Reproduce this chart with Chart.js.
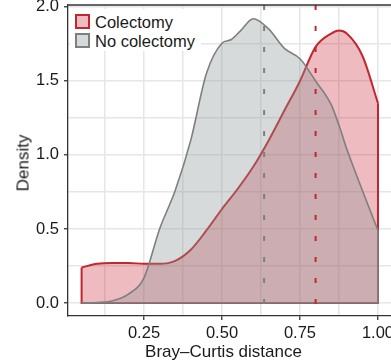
<!DOCTYPE html>
<html>
<head>
<meta charset="utf-8">
<script src="https://cdn.jsdelivr.net/npm/chart.js@4.4.0/dist/chart.umd.min.js"></script>
<style>
  html, body { margin: 0; padding: 0; background: #fff; overflow: hidden; }
  #wrap { position: relative; width: 391px; height: 360px; font-family: "Liberation Sans", Arial, sans-serif; color: #1a1a1a; }
  #chart { position: absolute; left: 0; top: 0; }
  .legend { position: absolute; left: 70px; top: 9px; width: 131px; height: 42px; background: #fff; }
  .key { position: absolute; left: 5px; width: 15px; height: 15px; box-sizing: border-box; border: 2px solid; }
  .lab { position: absolute; left: 25px; font-size: 16.5px; line-height: 16.5px; white-space: nowrap; }
  .ytitle { position: absolute; left: 23.3px; top: 163px; font-size: 17px; line-height: 17px; transform: translate(-50%, -50%) rotate(-90deg); white-space: nowrap; }
  .xtitle { position: absolute; left: 223.5px; top: 351px; font-size: 17px; line-height: 17px; transform: translate(-50%, -50%); white-space: nowrap; }
</style>
</head>
<body>
<div id="wrap">
  <canvas id="chart" width="391" height="360"></canvas>
  <div class="legend">
    <div class="key" style="top:5px;border-color:#c1272d;background:rgba(200,30,45,0.3)"></div>
    <div class="lab" style="top:5px">Colectomy</div>
    <div class="key" style="top:24px;border-color:#7f7f7f;background:rgba(140,150,150,0.35)"></div>
    <div class="lab" style="top:24px">No colectomy</div>
  </div>
  <div class="ytitle">Density</div>
  <div class="xtitle">Bray–Curtis distance</div>
</div>
<script>
// density curves
const colectomyX = [0.05, 0.1, 0.15, 0.2, 0.25, 0.3, 0.35, 0.4, 0.45, 0.5, 0.55, 0.6, 0.65, 0.7, 0.75, 0.8, 0.85, 0.875, 0.9, 0.95, 1.0];
const colectomyY = [0.24, 0.265, 0.27, 0.27, 0.265, 0.265, 0.285, 0.36, 0.49, 0.635, 0.77, 0.92, 1.1, 1.3, 1.5, 1.73, 1.82, 1.84, 1.82, 1.67, 1.35];
const noColectomyX = [0.05, 0.1, 0.15, 0.2, 0.25, 0.3, 0.35, 0.4, 0.45, 0.5, 0.53, 0.56, 0.6, 0.65, 0.7, 0.75, 0.8, 0.85, 0.875, 0.9, 0.95, 1.0];
const noColectomyY = [0.0, 0.003, 0.015, 0.06, 0.17, 0.5, 0.76, 1.1, 1.55, 1.755, 1.78, 1.84, 1.92, 1.85, 1.72, 1.65, 1.5, 1.34, 1.2, 1.04, 0.76, 0.49];

// dashed reference lines (group means)
const colectomyMean = 0.80;
const noColectomyMean = 0.635;

const xTicks = [0.125, 0.25, 0.375, 0.5, 0.625, 0.75, 0.875, 1.0];
const yTicks = [0, 0.25, 0.5, 0.75, 1.0, 1.25, 1.5, 1.75, 2.0];

const xMin = 0.0064, xMax = 1.0417;
const yMin = -0.088, yMax = 2.013;

const red = '#c1272d';
const grey = '#7f7f7f';
const font = { family: '"Liberation Sans", Arial, sans-serif', size: 16.5 };

const toPoints = (xs, ys) => xs.map((x, i) => ({ x: x, y: ys[i] }));
const edges = (xs, ys) => {
  const n = xs.length - 1;
  return [{ x: xs[0], y: ys[0] }, { x: xs[0], y: 0 }, { x: xs[n], y: 0 }, { x: xs[n], y: ys[n] }];
};
const vline = (x) => [{ x: x, y: yMax }, { x: x, y: yMin }];

const isMajorX = v => Math.abs(v * 4 - Math.round(v * 4)) < 1e-9;
const isMajorY = v => Math.abs(v * 2 - Math.round(v * 2)) < 1e-9;

const panelTop = {
  id: 'panelTop',
  afterDraw(chart) {
    const { ctx, chartArea: a } = chart;
    ctx.save();
    ctx.strokeStyle = '#333';
    ctx.lineWidth = 1.3;
    ctx.beginPath();
    ctx.moveTo(a.left, a.top);
    ctx.lineTo(a.right, a.top);
    ctx.stroke();
    ctx.restore();
  }
};

new Chart(document.getElementById('chart'), {
  type: 'line',
  data: {
    datasets: [
      { data: vline(noColectomyMean), borderColor: grey, borderWidth: 2, borderDash: [5, 16], fill: false, order: 0 },
      { data: vline(colectomyMean), borderColor: red, borderWidth: 2, borderDash: [5, 16], fill: false, order: 0 },
      { label: 'No colectomy', data: toPoints(noColectomyX, noColectomyY), borderColor: grey, borderWidth: 1.6,
        backgroundColor: 'rgba(140,150,150,0.35)', fill: 'origin', cubicInterpolationMode: 'monotone', order: 1 },
      { data: edges(noColectomyX, noColectomyY), borderColor: grey, borderWidth: 1.6, fill: false, tension: 0, order: 1 },
      { label: 'Colectomy', data: toPoints(colectomyX, colectomyY), borderColor: red, borderWidth: 2,
        backgroundColor: 'rgba(200,30,45,0.3)', fill: 'origin', cubicInterpolationMode: 'monotone', order: 2 },
      { data: edges(colectomyX, colectomyY), borderColor: red, borderWidth: 2, fill: false, tension: 0, order: 2 }
    ]
  },
  options: {
    responsive: false,
    animation: false,
    layout: { padding: { top: 5, left: 0, right: 0, bottom: 0 } },
    plugins: { legend: { display: false }, tooltip: { enabled: false } },
    elements: { point: { radius: 0 } },
    scales: {
      x: {
        type: 'linear', min: xMin, max: xMax,
        afterBuildTicks: s => { s.ticks = xTicks.map(v => ({ value: v })); },
        afterFit: s => { s.height = 44; s.paddingLeft = 0; s.paddingRight = 0; },
        ticks: { autoSkip: false, maxRotation: 0, padding: 4, color: '#1a1a1a', font: font,
          callback: v => isMajorX(v) ? v.toFixed(2) : '' },
        grid: { color: '#e6e6e6', lineWidth: 1.5, tickLength: 4,
          tickColor: c => (c.tick && isMajorX(c.tick.value)) ? '#333' : 'rgba(0,0,0,0)', tickWidth: 1.3 },
        border: { color: '#333', width: 1.3 }
      },
      y: {
        type: 'linear', min: yMin, max: yMax,
        afterBuildTicks: s => { s.ticks = yTicks.map(v => ({ value: v })); },
        afterFit: s => { s.width = 68; s.paddingTop = 0; s.paddingBottom = 0; },
        ticks: { autoSkip: false, padding: 5, color: '#1a1a1a', font: font,
          callback: v => isMajorY(v) ? v.toFixed(1) : '' },
        grid: { color: '#e6e6e6', lineWidth: 1.5, tickLength: 4,
          tickColor: c => (c.tick && isMajorY(c.tick.value)) ? '#333' : 'rgba(0,0,0,0)', tickWidth: 1.3 },
        border: { color: '#333', width: 1.3 }
      }
    }
  },
  plugins: [panelTop]
});
</script>
</body>
</html>
